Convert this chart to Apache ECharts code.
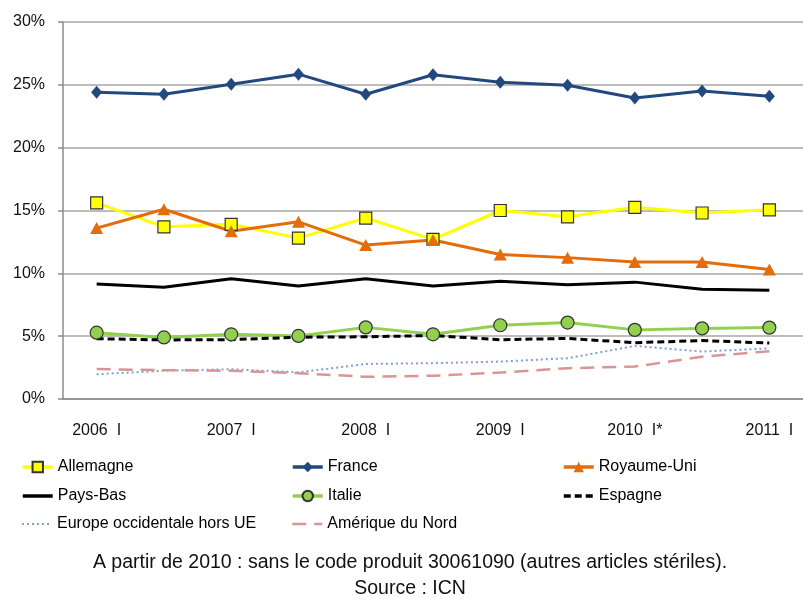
<!DOCTYPE html>
<html><head><meta charset="utf-8">
<script src="https://cdn.jsdelivr.net/npm/echarts@6/dist/echarts.min.js"></script>
<style>html,body{margin:0;padding:0;background:#fff}#c{width:803px;height:601px}</style>
</head><body><div id="c"></div>
<script>
const categories = ["2006  I","II","2007  I","II","2008  I","II","2009  I","II","2010  I*","II","2011  I"];
const yTicks = [0,5,10,15,20,25,30];
const allemagne = [15.6,13.7,13.9,12.8,14.4,12.7,15.0,14.5,15.25,14.8,15.05];
const france = [24.4,24.25,25.05,25.85,24.25,25.8,25.2,24.97,23.95,24.5,24.1];
const royaumeUni = [13.6,15.1,13.35,14.1,12.25,12.65,11.5,11.25,10.9,10.9,10.3];
const paysBas = [9.15,8.9,9.57,9.0,9.57,9.0,9.37,9.1,9.3,8.73,8.65];
const italie = [5.28,4.9,5.15,5.02,5.7,5.15,5.87,6.08,5.5,5.62,5.68];
const espagne = [4.8,4.7,4.72,4.92,4.95,5.05,4.72,4.82,4.48,4.65,4.45];
const europeHorsUE = [1.97,2.25,2.37,2.12,2.79,2.85,2.98,3.24,4.22,3.78,4.03];
const ameriqueNord = [2.38,2.3,2.24,2.05,1.77,1.85,2.1,2.45,2.58,3.37,3.8];
const footnote = "A partir de 2010 : sans le code produit 30061090 (autres articles stériles).";
const source = "Source : ICN";

const FONT = '"Liberation Sans",Arial,sans-serif';
const chart = echarts.init(document.getElementById('c'));
function s(name, data, color, opt) {
  return Object.assign({
    name, type:'line', data, animation:false,
    lineStyle:{color, width:3}, itemStyle:{color},
    symbol:'none', symbolSize:11, z:3
  }, opt||{});
}
const series = [
  s('Allemagne', allemagne, '#FFFF00', {symbol:'rect', symbolSize:12, itemStyle:{color:'#FFFF00', borderColor:'#333', borderWidth:1.2}}),
  s('France', france, '#22497F', {symbol:'diamond', symbolSize:[11,13]}),
  s('Royaume-Uni', royaumeUni, '#E46C0A', {symbol:'triangle', symbolSize:[13,12]}),
  s('Pays-Bas', paysBas, '#000000'),
  s('Italie', italie, '#92D050', {symbol:'circle', symbolSize:13, itemStyle:{color:'#92D050', borderColor:'#333', borderWidth:1.2}}),
  s('Espagne', espagne, '#000000', {lineStyle:{color:'#000', width:3, type:[7,4]}}),
  s('Europe occidentale hors UE', europeHorsUE, '#7F9FD3', {lineStyle:{color:'#7F9FD3', width:2, type:[2,3]}}),
  s('Amérique du Nord', ameriqueNord, '#D99594', {lineStyle:{color:'#D99594', width:2.5, type:[14,8]}})
];
const noMarker = ['Pays-Bas','Espagne','Europe occidentale hors UE','Amérique du Nord'];
const legendWidth = {'Europe occidentale hors UE':2, 'Amérique du Nord':2.5};
const legendPos = [
  ['Allemagne',21,459],['France',291,459],['Royaume-Uni',562,459],
  ['Pays-Bas',21,488],['Italie',291,488],['Espagne',562,488],
  ['Europe occidentale hors UE',21,516],['Amérique du Nord',291,516]
];
const legends = legendPos.map(([name,l,t]) => ({
  left:l, top:t, padding:0, selectedMode:false, itemWidth:30, itemHeight:13,
  textStyle:{fontFamily:FONT, fontSize:16, color:'#000'},
  lineStyle:{width: legendWidth[name] || 3.5},
  data:[noMarker.includes(name) ? {name, itemStyle:{color:'rgba(0,0,0,0)', borderColor:'rgba(0,0,0,0)', borderWidth:0}} : {name}]
}));
chart.setOption({
  backgroundColor:'#fff',
  animation:false,
  grid:{left:63, top:22, bottom:202, width:749},
  xAxis:{type:'category', data:categories, boundaryGap:true,
    axisLine:{lineStyle:{color:'#8c8c8c', width:1.5}},
    axisTick:{length:7, lineStyle:{color:'#8c8c8c', width:1.5}},
    axisLabel:{fontFamily:FONT, fontSize:16, color:'#111', margin:24}},
  yAxis:{type:'value', min:yTicks[0], max:yTicks[yTicks.length-1], interval:5,
    axisLine:{show:true, lineStyle:{color:'#8c8c8c', width:1.5}},
    axisTick:{show:true, length:5, lineStyle:{color:'#8c8c8c', width:1.5}},
    splitLine:{lineStyle:{color:'#a6a6a6', width:1.5}},
    axisLabel:{fontFamily:FONT, fontSize:16, color:'#111', margin:18, formatter:'{value}%'}},
  legend:legends,
  graphic:[
    {type:'text', x:410, y:563, style:{text:footnote, font:'19.5px '+FONT, fill:'#111', textAlign:'center', textVerticalAlign:'middle'}},
    {type:'text', x:410, y:589, style:{text:source, font:'19.5px '+FONT, fill:'#111', textAlign:'center', textVerticalAlign:'middle'}}
  ],
  series
});
</script></body></html>
